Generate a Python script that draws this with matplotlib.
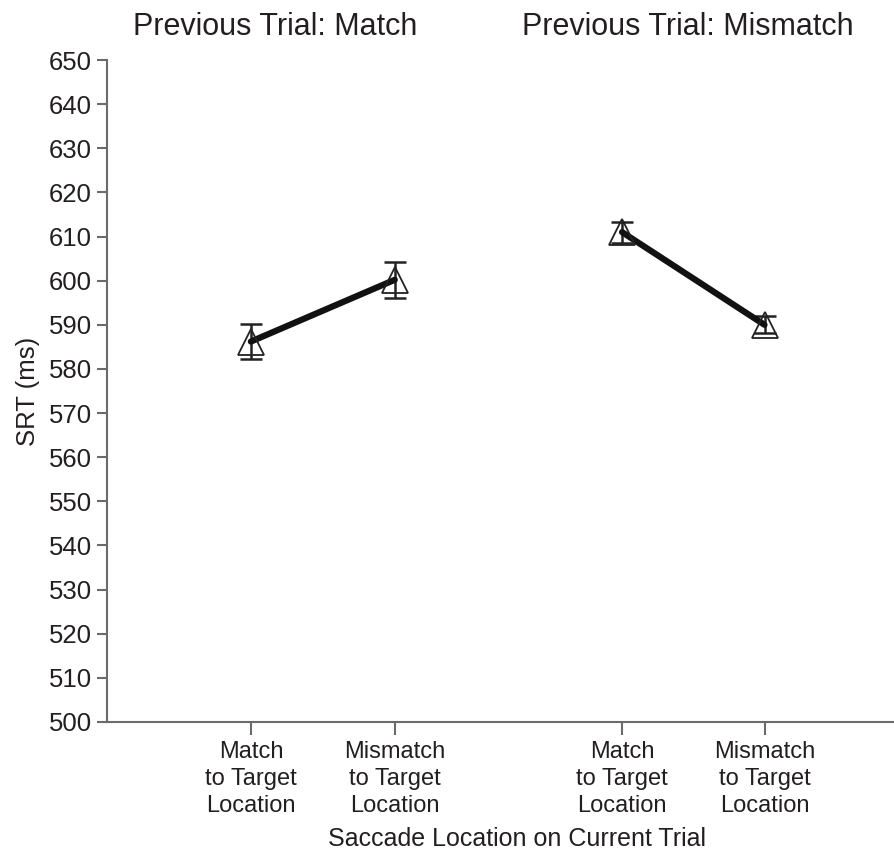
import matplotlib
matplotlib.use('Agg')
import matplotlib.pyplot as plt

plt.rcParams['font.family'] = ['Liberation Sans', 'DejaVu Sans']

# values
tick_labels = ['Match\nto Target\nLocation', 'Mismatch\nto Target\nLocation',
               'Match\nto Target\nLocation', 'Mismatch\nto Target\nLocation']
x_pos = [1, 2, 3.58, 4.57]
srt_match = [586.2, 600.2]        # previous trial: match
err_match = [4.0, 4.1]
srt_mismatch = [611.0, 590.0]     # previous trial: mismatch
err_mismatch = [2.4, 1.9]
panel_titles = ['Previous Trial: Match', 'Previous Trial: Mismatch']
title_x = [1.17, 4.04]

text_color = '#231f20'
axis_color = '#6b6b6b'

fig = plt.figure(figsize=(8.94, 8.5), dpi=100)
ax = fig.add_axes([0.1197, 0.1506, 0.8803, 0.7788])

for xs, ys, es in [(x_pos[:2], srt_match, err_match), (x_pos[2:], srt_mismatch, err_mismatch)]:
    ax.errorbar(xs, ys, yerr=es, fmt='none', ecolor='#222222', elinewidth=1.8,
                capsize=8, capthick=1.8, zorder=2)
    ax.plot(xs, ys, color='#111111', linewidth=4.5, solid_capstyle='round', zorder=3)
    ax.plot(xs, ys, linestyle='none', marker='^', markersize=19, markerfacecolor='none',
            markeredgecolor='#222222', markeredgewidth=1.3, zorder=4)

ax.set_xlim(0, 5.47)
ax.set_ylim(500, 650)
ax.set_yticks(range(500, 651, 10))
ax.set_xticks(x_pos)
ax.set_xticklabels(tick_labels, linespacing=1.27)

for s in ['top', 'right']:
    ax.spines[s].set_visible(False)
for s in ['left', 'bottom']:
    ax.spines[s].set_color(axis_color)
    ax.spines[s].set_linewidth(1.5)

ax.tick_params(axis='y', direction='out', length=7, width=1.5, color=axis_color,
               labelsize=18.5, labelcolor=text_color, pad=4)
ax.tick_params(axis='x', direction='out', length=9, width=1.5, color=axis_color,
               labelsize=17, labelcolor=text_color, pad=5)

ax.set_ylabel('SRT (ms)', fontsize=18.5, color=text_color, labelpad=6)
ax.set_xlabel('Saccade Location on Current Trial', fontsize=18, color=text_color)
ax.xaxis.set_label_coords((517 - 107) / 787, -0.158)

for t, tx in zip(panel_titles, title_x):
    ax.text(tx, 1.05, t, transform=ax.get_xaxis_transform(), ha='center', va='center',
            fontsize=22, color=text_color)

fig.savefig('out.png', dpi=100)
